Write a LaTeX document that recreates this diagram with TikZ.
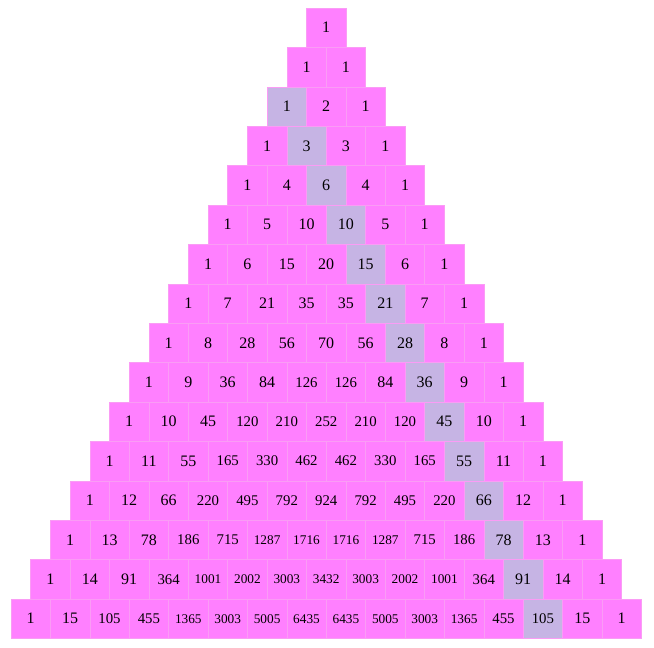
\documentclass[tikz,border=0pt]{standalone}
\usepackage{fontspec}
\setmainfont{Liberation Serif}
\definecolor{pinkc}{HTML}{FF80FF}
\definecolor{lavc}{HTML}{C6B4E4}
\definecolor{edgec}{HTML}{FA9CF5}
\newcommand\pasnum[1]{\ifnum#1>999 \fontsize{13.3}{14}\selectfont\else\ifnum#1>99 \fontsize{14.8}{16}\selectfont\else\fontsize{16}{18}\selectfont\fi\fi #1}
\tikzset{
  cellbox/.style={rectangle, anchor=north west, minimum width=39.4pt, minimum height=39.4pt,
    inner sep=0pt, outer sep=0pt, draw=edgec, line width=0.6pt, text=black},
}
\begin{document}
\begin{tikzpicture}[x=1pt,y=1pt]
\fill[white] (0,0) rectangle (654,-648);
\useasboundingbox (0,0) rectangle (654,-648);
\foreach \rowlist [count=\r from 0] in {
 {1},{1,1},{1,2,1},{1,3,3,1},{1,4,6,4,1},{1,5,10,10,5,1},{1,6,15,20,15,6,1},
 {1,7,21,35,35,21,7,1},{1,8,28,56,70,56,28,8,1},{1,9,36,84,126,126,84,36,9,1},
 {1,10,45,120,210,252,210,120,45,10,1},{1,11,55,165,330,462,462,330,165,55,11,1},
 {1,12,66,220,495,792,924,792,495,220,66,12,1},
 {1,13,78,186,715,1287,1716,1716,1287,715,186,78,13,1},
 {1,14,91,364,1001,2002,3003,3432,3003,2002,1001,364,91,14,1},
 {1,15,105,455,1365,3003,5005,6435,6435,5005,3003,1365,455,105,15,1}}{
  \foreach \v [count=\k from 0] in \rowlist {
    \ifnum\k=\numexpr\r-2\relax \def\cfill{lavc}\else\def\cfill{pinkc}\fi
    \node[cellbox, fill=\cfill] (c-\r-\k) at ({306.5-19.7*\r+39.4*\k},{-8-39.4*\r}) {\pasnum{\v}};
  }
}
\end{tikzpicture}
\end{document}
